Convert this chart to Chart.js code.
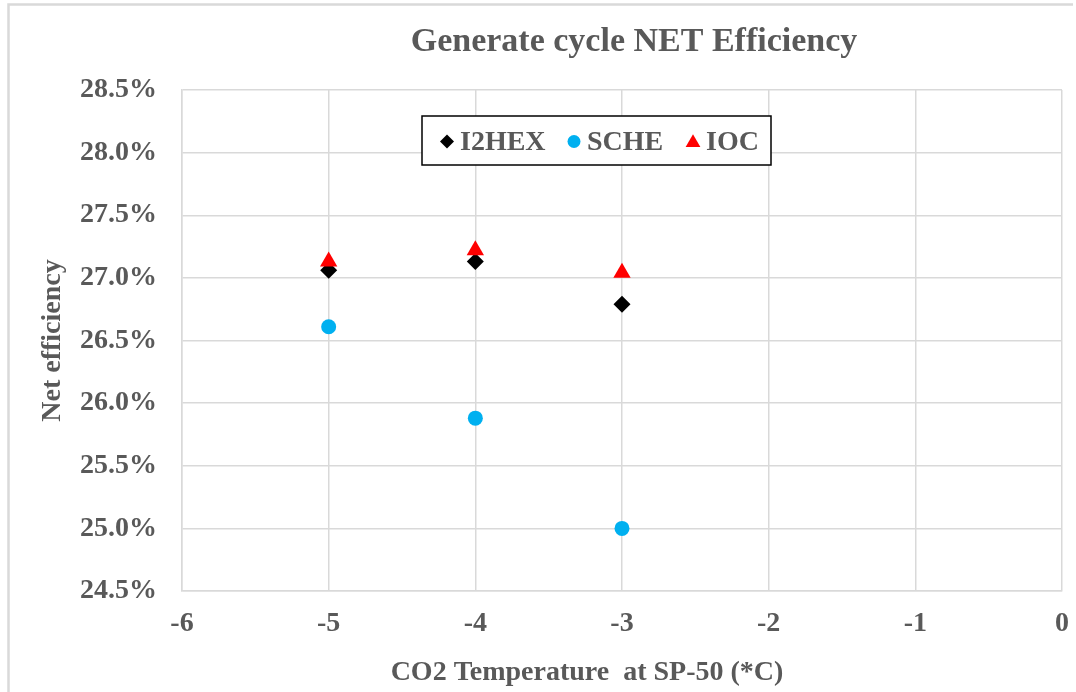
<!DOCTYPE html>
<html>
<head>
<meta charset="utf-8">
<script src="https://cdn.jsdelivr.net/npm/chart.js@4/dist/chart.umd.min.js"></script>
<style>
  html, body { margin: 0; padding: 0; background: #ffffff; }
  #wrap { width: 1076px; height: 692px; }
</style>
</head>
<body>
<div id="wrap"><canvas id="c" width="1076" height="692"></canvas></div>
<script>
// ---- data ----
const chartTitle = 'Generate cycle NET Efficiency';
const xAxisTitle = 'CO2 Temperature  at SP-50 (*C)';
const yAxisTitle = 'Net efficiency';
const seriesNames = ['I2HEX', 'SCHE', 'IOC'];
const xValues = [-5, -4, -3];
const i2hexValues = [27.06, 27.13, 26.79];
const scheValues = [26.61, 25.88, 25.00];
const iocValues = [27.13, 27.22, 27.04];
const xTickValues = [-6, -5, -4, -3, -2, -1, 0];
const yTickValues = [24.5, 25.0, 25.5, 26.0, 26.5, 27.0, 27.5, 28.0, 28.5];

// ---- styles ----
const FONT = "'Liberation Serif', 'Times New Roman', serif";
const TEXT = '#595959';
const GRID = '#d9d9d9';
const colors = ['#000000', '#00b0f0', '#ff0000'];
const styles = ['rectRot', 'circle', 'triangle'];
const radii = [8.5, 7.5, 10];

function pts(arr) { return xValues.map((x, i) => ({ x: x, y: arr[i] })); }

const valueSets = [i2hexValues, scheValues, iocValues];
const orders = [2, 1, 0];
const datasets = seriesNames.map((name, k) => ({
  label: name,
  data: pts(valueSets[k]),
  pointStyle: styles[k],
  pointRadius: radii[k],
  pointHoverRadius: radii[k],
  backgroundColor: colors[k],
  borderColor: colors[k],
  borderWidth: 0,
  showLine: false,
  order: orders[k]
}));

function drawMarker(ctx, style, x, y, r, color) {
  ctx.save();
  ctx.fillStyle = color;
  ctx.beginPath();
  if (style === 'rectRot') {
    ctx.moveTo(x, y - r); ctx.lineTo(x + r, y); ctx.lineTo(x, y + r); ctx.lineTo(x - r, y);
  } else if (style === 'circle') {
    ctx.arc(x, y, r, 0, Math.PI * 2);
  } else {
    const h = r * 1.5, w = r * Math.sqrt(3);
    ctx.moveTo(x, y - h / 2 - 1); ctx.lineTo(x + w / 2, y + h / 2 - 1); ctx.lineTo(x - w / 2, y + h / 2 - 1);
  }
  ctx.closePath();
  ctx.fill();
  ctx.restore();
}

const decorPlugin = {
  id: 'decor',
  beforeDraw(chart) {
    const ctx = chart.ctx;
    ctx.save();
    ctx.fillStyle = '#ffffff';
    ctx.fillRect(0, 0, chart.width, chart.height);
    ctx.strokeStyle = GRID;
    ctx.lineWidth = 2.5;
    ctx.beginPath();
    ctx.moveTo(8.5, 692); ctx.lineTo(8.5, 4.5); ctx.lineTo(1073, 4.5);
    ctx.stroke();
    ctx.restore();
  },
  afterDraw(chart) {
    const ctx = chart.ctx;
    const ca = chart.chartArea;
    ctx.save();
    // title
    ctx.fillStyle = TEXT;
    ctx.textAlign = 'center';
    ctx.textBaseline = 'middle';
    ctx.font = 'bold 34px ' + FONT;
    ctx.fillText(chartTitle, ca.left + 452, 42);
    // x axis title
    ctx.font = 'bold 28px ' + FONT;
    ctx.fillText(xAxisTitle, ca.left + 405, 673);
    // legend box
    const bx = ca.left + 240, by = ca.top + 26, bw = 349, bh = 49;
    ctx.fillStyle = '#ffffff';
    ctx.fillRect(bx, by, bw, bh);
    ctx.strokeStyle = '#000000';
    ctx.lineWidth = 1.5;
    ctx.strokeRect(bx, by, bw, bh);
    const cy = by + bh / 2 + 1;
    const markerX = [bx + 25, bx + 152, bx + 271];
    const legR = [7, 6.5, 8.5];
    ctx.font = 'bold 28px ' + FONT;
    ctx.textAlign = 'left';
    chart.data.datasets.forEach((ds, k) => {
      drawMarker(ctx, ds.pointStyle, markerX[k], cy, legR[k], ds.backgroundColor);
      ctx.fillStyle = TEXT;
      ctx.fillText(ds.label, markerX[k] + 13, cy + 1);
    });
    ctx.restore();
  }
};

new Chart(document.getElementById('c'), {
  type: 'scatter',
  data: { datasets: datasets },
  options: {
    responsive: false,
    animation: false,
    layout: { padding: { left: 10, right: 14, top: 90, bottom: 0 } },
    plugins: {
      legend: { display: false },
      title: { display: false },
      tooltip: { enabled: false }
    },
    scales: {
      x: {
        type: 'linear',
        min: xTickValues[0],
        max: xTickValues[xTickValues.length - 1],
        afterBuildTicks(scale) { scale.ticks = xTickValues.map(v => ({ value: v })); },
        afterFit(scale) { scale.height = 101; scale.paddingRight = 0; scale.paddingLeft = 0; },
        grid: { color: GRID, lineWidth: 1.5, drawTicks: false },
        border: { display: true, color: GRID, width: 1.5 },
        ticks: {
          padding: 16,
          color: TEXT,
          font: { family: FONT, size: 28, weight: 'bold' },
          callback: v => String(v)
        },
        title: { display: false }
      },
      y: {
        type: 'linear',
        min: yTickValues[0],
        max: yTickValues[yTickValues.length - 1],
        afterBuildTicks(scale) { scale.ticks = yTickValues.map(v => ({ value: v })); },
        afterFit(scale) { scale.width = 172; scale.paddingTop = 0; scale.paddingBottom = 0; },
        grid: { color: GRID, lineWidth: 1.5, drawTicks: false },
        border: { display: true, color: GRID, width: 1.5 },
        ticks: {
          padding: 25,
          color: TEXT,
          font: { family: FONT, size: 28, weight: 'bold' },
          callback: v => Number(v).toFixed(1) + '%'
        },
        title: {
          display: true,
          text: yAxisTitle,
          color: TEXT,
          font: { family: FONT, size: 28, weight: 'bold' },
          padding: { top: 26, bottom: 0 }
        }
      }
    }
  },
  plugins: [decorPlugin]
});
</script>
</body>
</html>
